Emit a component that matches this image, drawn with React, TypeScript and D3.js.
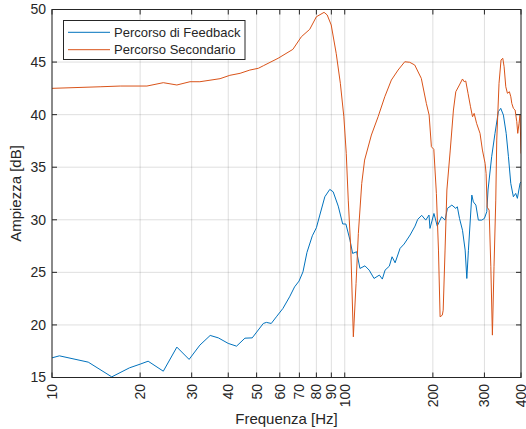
import React, { useRef, useEffect } from 'react';
import * as d3 from 'd3';

// Percorso di Feedback
const freqFeedback = [10, 10.6, 13.3, 16, 18.4, 20, 21.3, 24, 26.7, 29.4, 32, 34.7, 37, 40, 42.7, 45.6, 48.3, 52.7, 54, 56.1, 58.4, 61.5, 64.8, 67.4, 69.8, 72, 74.3, 77.5, 80, 82.2, 85.5, 88.9, 91.3, 95, 98.4, 100.9, 104.2, 106.4, 109.8, 112.7, 117.2, 121.2, 125.9, 131.3, 134.4, 137.3, 142, 145.1, 148.6, 154.5, 159.5, 167.2, 173.8, 177.5, 183.2, 189.1, 194, 195.5, 201.7, 207, 214.2, 220.1, 224.2, 232.2, 239.5, 242.4, 246.6, 252.5, 257.8, 261.2, 264.5, 271.7, 275, 280.5, 286, 293.8, 300, 305.6, 308.6, 317.6, 326, 334.7, 341.1, 348.3, 356, 362.4, 369.1, 376.7, 383.7, 388.8, 397, 400];
const dbFeedback = [16.87, 17.06, 16.46, 15.06, 15.92, 16.27, 16.55, 15.6, 17.89, 16.72, 18.08, 19.0, 18.77, 18.24, 17.98, 18.74, 18.77, 20.14, 20.24, 20.14, 20.77, 21.57, 22.67, 23.62, 24.17, 25.05, 26.9, 28.48, 29.24, 30.45, 32.19, 32.89, 32.66, 31.3, 29.6, 29.6, 28.07, 26.8, 26.96, 25.37, 25.62, 25.21, 24.42, 24.74, 24.36, 25.21, 25.59, 26.48, 25.91, 27.28, 27.69, 28.55, 29.4, 30.04, 30.42, 29.97, 30.45, 29.18, 30.6, 29.4, 30.29, 29.97, 31.08, 31.4, 31.08, 31.24, 30.13, 29.0, 27.12, 24.42, 27.1, 32.35, 31.7, 31.4, 29.97, 29.97, 30.13, 30.77, 32.83, 36.0, 38.22, 40.28, 40.6, 39.96, 38.22, 36.0, 33.46, 32.19, 32.51, 32.04, 33.46, 33.6];

// Percorso Secondario
const freqSecondary = [10, 14.6, 17.1, 21.1, 24, 26.7, 29.6, 32, 37.5, 40.5, 43.9, 47.4, 50.7, 52.7, 59.2, 66.5, 71.1, 75.9, 80, 85, 87.1, 89.9, 93.5, 96.6, 99.3, 101.2, 102.8, 104.9, 107, 109.3, 111.3, 114.3, 116.9, 123.3, 130, 137, 144.3, 152.1, 160.3, 166.7, 173.4, 182.6, 190, 194.2, 197.7, 201.5, 205.6, 209, 211.7, 215.4, 216.9, 220.1, 223.3, 229.3, 235.1, 239.5, 246.4, 252.5, 255.8, 259, 263.7, 268.9, 273.2, 276.7, 282.1, 289.8, 295.3, 301.6, 304, 306.5, 311.3, 315.5, 319.4, 323.5, 328, 330.5, 336.5, 341.9, 346.6, 350.2, 354.9, 359.5, 365.1, 369.2, 372.1, 376.8, 381.9, 386.9, 389.9, 393.9, 397, 400];
const dbSecondary = [42.5, 42.65, 42.72, 42.72, 43.04, 42.82, 43.13, 43.13, 43.42, 43.74, 43.93, 44.24, 44.41, 44.65, 45.36, 46.21, 47.41, 48.11, 49.31, 49.73, 49.48, 48.53, 45.83, 42.98, 39.8, 36.32, 31.87, 27.12, 18.87, 23.95, 28.7, 33.46, 35.68, 38.06, 39.8, 41.7, 43.29, 44.24, 45.03, 44.98, 44.72, 43.45, 41.07, 39.96, 36.95, 36.7, 32.51, 27.12, 20.77, 20.93, 21.4, 27.12, 32.83, 36.63, 40.44, 42.18, 42.82, 43.39, 43.13, 43.2, 42.03, 40.75, 39.8, 40.12, 39.17, 38.22, 36.63, 35.37, 34.4, 31.2, 30.92, 25.53, 19.03, 25.53, 31.87, 37.58, 42.98, 45.2, 45.36, 44.56, 42.65, 42.03, 42.18, 41.7, 41.07, 40.6, 40.44, 39.33, 38.22, 39.17, 39.96, 36.3];

const xTicks = [10, 20, 30, 40, 50, 60, 70, 80, 90, 100, 200, 300, 400];
const xTickLabels = ['10', '20', '30', '40', '50', '60', '70', '80', '90', '100', '200', '300', '400'];
const yTicks = [15, 20, 25, 30, 35, 40, 45, 50];

const seriesNames = ['Percorso di Feedback', 'Percorso Secondario'];
const seriesColors = ['#0072BD', '#D95319'];

const App = () => {
  const svgRef = useRef<SVGSVGElement>(null);
  const width = 526;
  const height = 429;

  useEffect(() => {
    const svg = d3.select(svgRef.current);
    svg.selectAll('*').remove();

    const left = 52, right = 521, top = 9.5, bottom = 377.5;
    const font = '"Liberation Sans", Arial, Helvetica, sans-serif';
    const ink = '#262626';

    const x = d3.scaleLog().domain([10, 400]).range([left, right]);
    const y = d3.scaleLinear().domain([15, 50]).range([bottom, top]);

    svg.append('rect').attr('width', width).attr('height', height).attr('fill', '#fff');
    svg.append('rect')
      .attr('x', left).attr('y', top)
      .attr('width', right - left).attr('height', bottom - top)
      .attr('fill', '#fff');

    // grid
    const grid = svg.append('g').attr('stroke', ink).attr('stroke-opacity', 0.15).attr('stroke-width', 1);
    xTicks.forEach((t) => {
      grid.append('line')
        .attr('x1', x(t)).attr('x2', x(t))
        .attr('y1', top).attr('y2', bottom);
    });
    yTicks.forEach((t) => {
      grid.append('line')
        .attr('x1', left).attr('x2', right)
        .attr('y1', y(t)).attr('y2', y(t));
    });

    svg.append('clipPath').attr('id', 'plotclip')
      .append('rect')
      .attr('x', left).attr('y', top)
      .attr('width', right - left).attr('height', bottom - top);

    const line = d3.line<[number, number]>()
      .x((d) => x(d[0]))
      .y((d) => y(d[1]));

    const series = [
      freqFeedback.map((f, i) => [f, dbFeedback[i]] as [number, number]),
      freqSecondary.map((f, i) => [f, dbSecondary[i]] as [number, number]),
    ];

    series.forEach((s, i) => {
      svg.append('path')
        .datum(s)
        .attr('clip-path', 'url(#plotclip)')
        .attr('fill', 'none')
        .attr('stroke', seriesColors[i])
        .attr('stroke-width', 1)
        .attr('stroke-linejoin', 'round')
        .attr('d', line);
    });

    // box and ticks
    svg.append('rect')
      .attr('x', left).attr('y', top)
      .attr('width', right - left).attr('height', bottom - top)
      .attr('fill', 'none').attr('stroke', ink).attr('stroke-width', 1);

    const ticks = svg.append('g').attr('stroke', ink).attr('stroke-width', 1);
    xTicks.forEach((t) => {
      ticks.append('line').attr('x1', x(t)).attr('x2', x(t)).attr('y1', bottom).attr('y2', bottom - 5);
      ticks.append('line').attr('x1', x(t)).attr('x2', x(t)).attr('y1', top).attr('y2', top + 5);
    });
    yTicks.forEach((t) => {
      ticks.append('line').attr('x1', left).attr('x2', left + 5).attr('y1', y(t)).attr('y2', y(t));
      ticks.append('line').attr('x1', right).attr('x2', right - 5).attr('y1', y(t)).attr('y2', y(t));
    });

    // tick labels
    xTicks.forEach((t, i) => {
      svg.append('text')
        .attr('transform', `translate(${x(t)}, 384) rotate(-90)`)
        .attr('text-anchor', 'end')
        .attr('dy', '0.35em')
        .attr('font-family', font)
        .attr('font-size', 14)
        .attr('fill', ink)
        .text(xTickLabels[i]);
    });
    yTicks.forEach((t) => {
      svg.append('text')
        .attr('x', 46).attr('y', y(t))
        .attr('text-anchor', 'end')
        .attr('dy', '0.35em')
        .attr('font-family', font)
        .attr('font-size', 14)
        .attr('fill', ink)
        .text(t);
    });

    // axis labels
    svg.append('text')
      .attr('x', (left + right) / 2).attr('y', 424)
      .attr('text-anchor', 'middle')
      .attr('font-family', font).attr('font-size', 15).attr('fill', ink)
      .text('Frequenza [Hz]');
    svg.append('text')
      .attr('transform', `translate(21, ${(top + bottom) / 2}) rotate(-90)`)
      .attr('text-anchor', 'middle')
      .attr('font-family', font).attr('font-size', 15).attr('fill', ink)
      .text('Ampiezza [dB]');

    // legend
    const legend = svg.append('g');
    legend.append('rect')
      .attr('x', 63.5).attr('y', 20.5).attr('width', 181.5).attr('height', 39)
      .attr('fill', '#fff').attr('stroke', ink).attr('stroke-width', 1);
    seriesNames.forEach((name, i) => {
      const ly = 32.3 + i * 17.4;
      legend.append('line')
        .attr('x1', 68).attr('x2', 110).attr('y1', ly).attr('y2', ly)
        .attr('stroke', seriesColors[i]).attr('stroke-width', 1);
      legend.append('text')
        .attr('x', 114).attr('y', ly).attr('dy', '0.35em')
        .attr('font-family', font).attr('font-size', 13).attr('fill', ink)
        .text(name);
    });
  }, []);

  return (
    <svg
      ref={svgRef}
      width={width}
      height={height}
      style={{ position: 'absolute', left: 0, top: 0, display: 'block' }}
    />
  );
};

export default App;
